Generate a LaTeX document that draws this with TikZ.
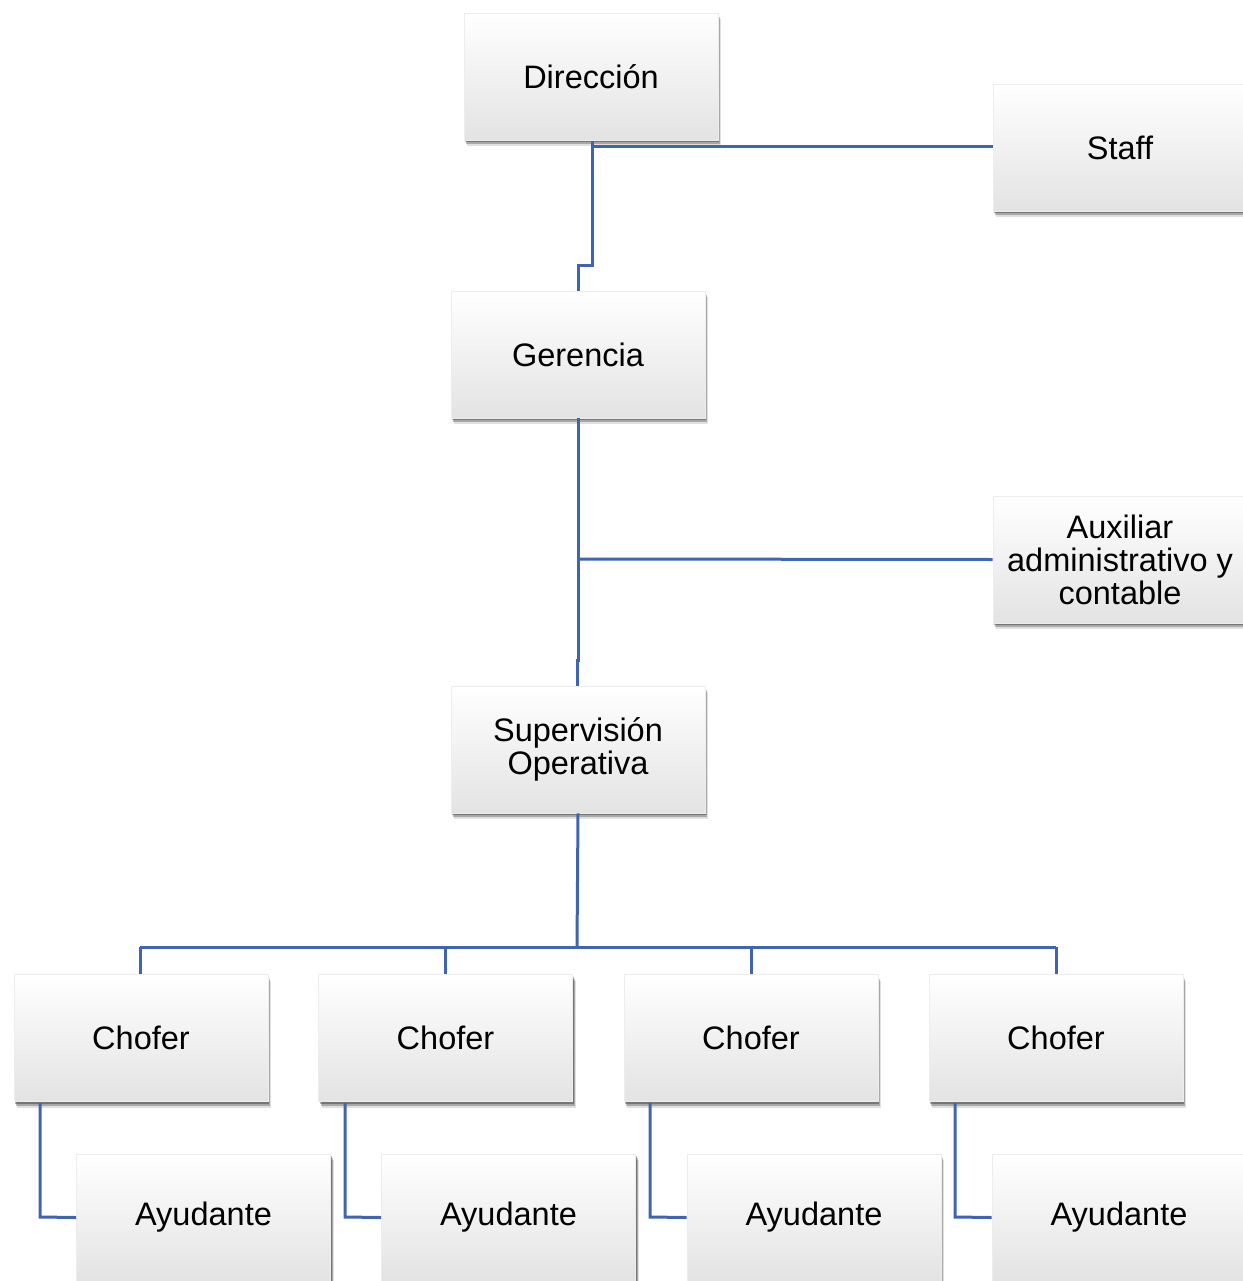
\documentclass[tikz,border=0pt]{standalone}
\usepackage{fontspec}
\setmainfont{Liberation Sans}
\usetikzlibrary{shadows}
\definecolor{linkblue}{HTML}{3F64B0}
\tikzset{
  orgbox/.style={rectangle, minimum width=254pt, minimum height=127pt, inner sep=0pt,
    align=center, top color=white, middle color=white, bottom color=black!11,
    draw=black!7, line width=0.6pt,
    font=\fontsize{32.5}{33}\selectfont,
    general shadow={shadow xshift=3pt, shadow yshift=-6pt, opacity=0.12, fill=black},
    general shadow={shadow xshift=2pt, shadow yshift=-4pt, opacity=0.25, fill=black},
    general shadow={shadow xshift=1pt, shadow yshift=-2pt, opacity=0.3, fill=black}},
  link/.style={draw=linkblue, line width=3pt}
}
\begin{document}
\begin{tikzpicture}[x=1pt,y=-1pt]
\useasboundingbox (0,0) rectangle (1242,1281);
\node[orgbox] (dir) at (591,76.5) {Dirección};
\node[orgbox] (staff) at (1120,147.5) {Staff};
\node[orgbox] (ger) at (578,354.5) {Gerencia};
\node[orgbox] (aux) at (1120,559.5) {Auxiliar\\administrativo y\\contable};
\node[orgbox] (sup) at (578,749.5) {Supervisión\\Operativa};
\foreach \i/\cx in {1/141,2/445.5,3/751,4/1056}{
  \node[orgbox] (ch\i) at (\cx,1038) {Chofer};
}
\foreach \i/\cx in {1/203.5,2/508.5,3/814,4/1119}{
  \node[orgbox] (ay\i) at (\cx,1217.5) {Ayudante};
}
% connectors
\coordinate (j1) at (592,147);
\draw[link] (592,141) -- (592,265) -- (578,265) -- (ger.north);
\draw[link] (j1) -- (staff.west |- j1);
\draw[link] (ger.south) -- (578,660) -- (577,660) -- (577,686);
\coordinate (j2) at (578,559);
\draw[link] (j2) -- (aux.west);
\coordinate (bus) at (577,947);
\draw[link] (sup.south) -- (bus);
\draw[link] (140,947) -- (1056,947);
\foreach \i/\x in {1/140,2/445,3/751,4/1056}{
  \draw[link] (\x,947) -- (\x,974);
}
\foreach \i/\x in {1/40,2/345,3/650,4/955}{
  \draw[link] (\x,1103) -- (\x,1217) -- (ay\i.west);
}
\end{tikzpicture}
\end{document}
